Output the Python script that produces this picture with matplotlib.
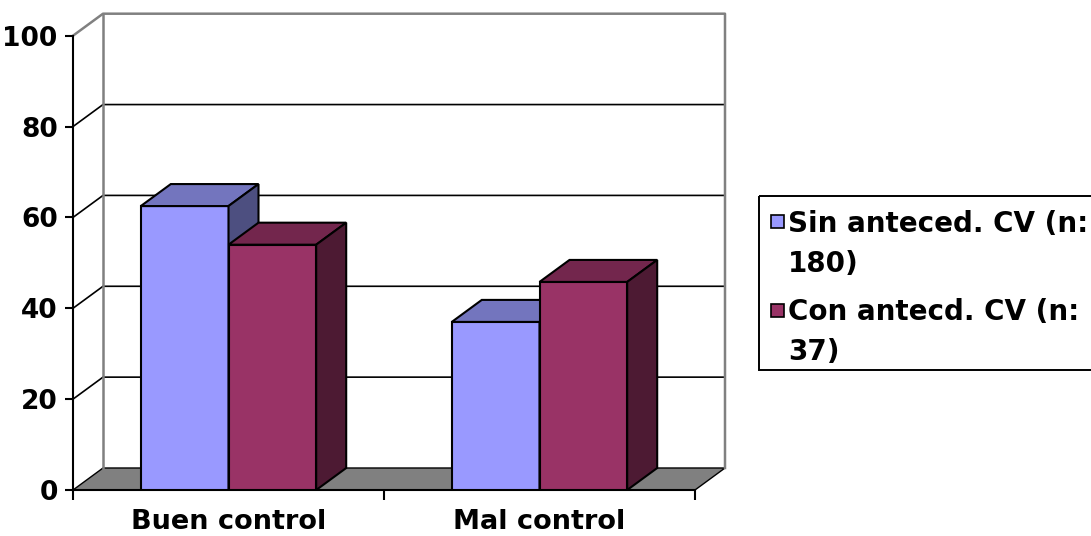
import matplotlib.pyplot as plt
from matplotlib.patches import Polygon, Rectangle
import numpy as np

plt.rcParams['font.family'] = ['DejaVu Sans']
plt.rcParams['font.weight'] = 'bold'
plt.rcParams['font.size'] = 19

categorias = ['Buen control', 'Mal control']
sin_antec = [62.5, 37.0]
con_antec = [54.0, 45.8]
leyenda = ['Sin anteced. CV (n:\n180)', 'Con antecd. CV (n:\n37)']
yticks = [0, 20, 40, 60, 80, 100]

# colores de cada serie: cara frontal, tapa, lateral
colores = [('#9999ff', '#7375be', '#4d4f80'),
           ('#993366', '#73264d', '#4d1a33')]

W, H = 1091, 536
fig = plt.figure(figsize=(W / 100, H / 100), dpi=100)

# plano frontal de la caja 3D (en pixeles) y desplazamiento de la pared del fondo
izq, der = 73, 695
base, techo = 490, 35.7
prof_x, prof_y = 30, 22

ncat = len(categorias)
px_x = (der - izq) / ncat
px_y = (base - techo) / 100
dx = prof_x / px_x
dy = prof_y / px_y

ax = fig.add_axes([izq / W, 1 - base / H,
                   (der - izq + prof_x) / W, (base - techo + prof_y) / H])
ax.set_xlim(0, ncat + dx)
ax.set_ylim(0, 100 + dy)
ax.patch.set_visible(False)

# suelo gris
ax.add_patch(Polygon([(0, 0), (ncat, 0), (ncat + dx, dy), (dx, dy)],
                     closed=True, fc='#808080', ec='black', lw=1.0, zorder=1))

# lineas de division en pared lateral y de fondo
for v in yticks[1:-1]:
    ax.plot([0, dx, ncat + dx], [v, v + dy, v + dy], color='black',
            lw=1.2, zorder=1, solid_joinstyle='miter')
gris = '#808080'
ax.plot([0, dx, ncat + dx, ncat + dx], [100, 100 + dy, 100 + dy, dy],
        color=gris, lw=1.8, zorder=1, clip_on=False)
ax.plot([dx, dx], [dy, 100 + dy], color=gris, lw=1.8, zorder=1)

# barras: cara frontal con ax.bar, tapa y lateral como poligonos
ancho = 0.282
centros = np.arange(ncat) + 0.5
for i, vals in enumerate([sin_antec, con_antec]):
    frente, tapa, lado = colores[i]
    xs = centros - ancho + i * ancho
    ax.bar(xs, vals, width=ancho, align='edge', color=frente,
           edgecolor='black', lw=1.5, zorder=3 + i)
    for x0, v in zip(xs, vals):
        x1 = x0 + ancho
        ax.add_patch(Polygon([(x0, v), (x1, v), (x1 + dx, v + dy), (x0 + dx, v + dy)],
                             fc=tapa, ec='black', lw=1.5, zorder=3 + i, joinstyle='miter'))
        ax.add_patch(Polygon([(x1, 0), (x1 + dx, dy), (x1 + dx, v + dy), (x1, v)],
                             fc=lado, ec='black', lw=1.5, zorder=3 + i, joinstyle='miter'))

# ejes
ax.spines['top'].set_visible(False)
ax.spines['right'].set_visible(False)
ax.spines['left'].set_bounds(0, 100)
ax.spines['bottom'].set_bounds(0, ncat)
for s in ['left', 'bottom']:
    ax.spines[s].set_linewidth(1.5)
ax.set_yticks(yticks)
ax.tick_params(axis='y', length=6, width=1.5, pad=5)
ax.set_xticks(np.arange(ncat + 1))
ax.set_xticklabels([])
ax.set_xticks(centros, minor=True)
ax.set_xticklabels(categorias, minor=True, fontsize=19.5)
ax.tick_params(axis='x', which='major', length=7, width=1.5)
ax.tick_params(axis='x', which='minor', length=0, pad=13.5)

# leyenda
lg = fig.add_axes([0, 0, 1, 1])
lg.set_xlim(0, W)
lg.set_ylim(H, 0)
lg.axis('off')
lg.add_patch(Rectangle((759, 196), 400, 174, fill=False, ec='black', lw=1.4))
for k, etiqueta in enumerate(leyenda):
    y0 = 231.6 + k * 88.4
    lg.add_patch(Rectangle((771, y0 - 16.5), 13, 13, fc=colores[k][0], ec='black', lw=1.2))
    for j, linea in enumerate(etiqueta.split('\n')):
        lg.text(788, y0 + j * 40, linea, va='baseline', ha='left', fontsize=20)

plt.savefig('out.png', dpi=100)
